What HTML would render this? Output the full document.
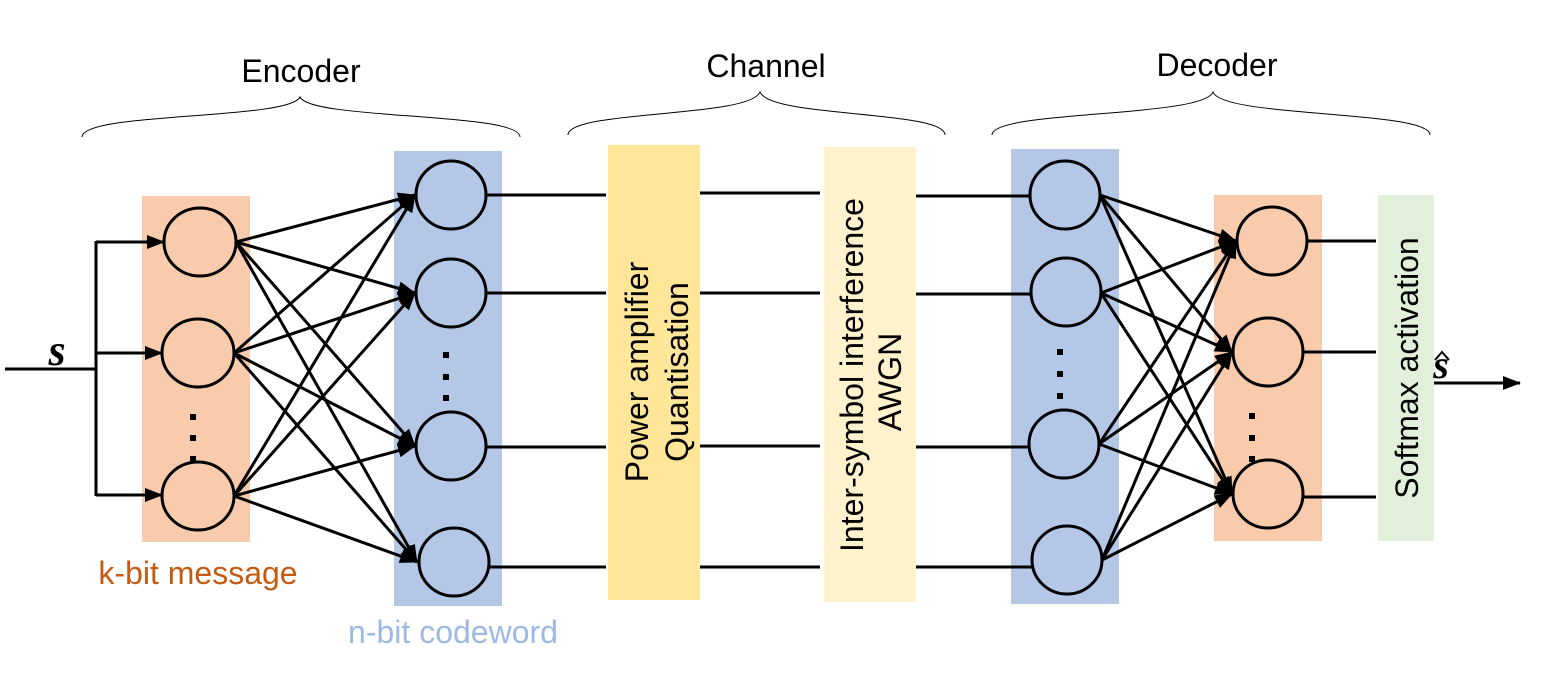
<!DOCTYPE html>
<html><head><meta charset="utf-8"><style>
html,body{margin:0;padding:0;background:#fff;}
svg{display:block;}
text{font-family:"Liberation Sans",sans-serif;}
</style></head><body>
<svg width="1551" height="688" viewBox="0 0 1551 688" xmlns="http://www.w3.org/2000/svg">
<defs>
<marker id="b" markerWidth="18" markerHeight="14" refX="17" refY="7" orient="auto" markerUnits="userSpaceOnUse" viewBox="0 0 18 14">
<path d="M0,0 L18,7 L0,14 z" fill="#000"/></marker>
</defs>
<g fill="none" stroke="#000" stroke-width="1">
<path d="M82,137 C82,112 290,120 300,97 C310,120 520,112 520,137"/>
<path d="M568,135 C568,110 750,118 760,92 C770,118 945,110 945,135"/>
<path d="M992,135 C992,110 1203,118 1213,92 C1223,118 1430,110 1430,135"/>
</g>
<g font-size="32" text-anchor="middle">
<text x="301" y="82">Encoder</text>
<text x="766" y="77">Channel</text>
<text x="1217" y="76">Decoder</text>
</g>
<rect x="142" y="196" width="108" height="346" fill="#F8CBAD"/>
<rect x="394" y="151" width="108" height="455" fill="#B4C7E7"/>
<rect x="608" y="145" width="92" height="455" fill="#FFE699"/>
<rect x="824" y="147" width="92" height="455" fill="#FFF2CC"/>
<rect x="1011" y="149" width="108" height="455" fill="#B4C7E7"/>
<rect x="1214" y="195" width="108" height="346" fill="#F8CBAD"/>
<rect x="1378" y="195" width="56" height="346" fill="#E2EFDA"/>
<g stroke="#000" stroke-width="3" fill="none">
<line x1="5" y1="369" x2="96" y2="369"/>
<line x1="96" y1="241" x2="96" y2="496"/>
<line x1="96" y1="242" x2="164" y2="242" marker-end="url(#b)"/>
<line x1="96" y1="353" x2="162" y2="353" marker-end="url(#b)"/>
<line x1="96" y1="495" x2="162" y2="495" marker-end="url(#b)"/>
<g marker-end="url(#b)">
<line x1="236" y1="242" x2="415" y2="195"/>
<line x1="236" y1="242" x2="415" y2="293"/>
<line x1="236" y1="242" x2="415" y2="446"/>
<line x1="236" y1="242" x2="417" y2="562"/>
<line x1="234" y1="353" x2="415" y2="195"/>
<line x1="234" y1="353" x2="415" y2="293"/>
<line x1="234" y1="353" x2="415" y2="446"/>
<line x1="234" y1="353" x2="417" y2="562"/>
<line x1="234" y1="496" x2="415" y2="195"/>
<line x1="234" y1="496" x2="415" y2="293"/>
<line x1="234" y1="496" x2="415" y2="446"/>
<line x1="234" y1="496" x2="417" y2="562"/>
</g>
<line x1="487" y1="195" x2="606" y2="195"/>
<line x1="487" y1="293" x2="606" y2="293"/>
<line x1="487" y1="447" x2="606" y2="447"/>
<line x1="489" y1="567" x2="606" y2="567"/>
<line x1="700" y1="193" x2="820" y2="193"/>
<line x1="700" y1="293" x2="820" y2="293"/>
<line x1="700" y1="446" x2="820" y2="446"/>
<line x1="700" y1="567" x2="820" y2="567"/>
<line x1="916" y1="196" x2="1032" y2="196"/>
<line x1="916" y1="294" x2="1032" y2="294"/>
<line x1="916" y1="447" x2="1030" y2="447"/>
<line x1="916" y1="567" x2="1032" y2="567"/>
<g marker-end="url(#b)">
<line x1="1100" y1="195" x2="1236" y2="241"/>
<line x1="1100" y1="195" x2="1232" y2="352"/>
<line x1="1100" y1="195" x2="1232" y2="494"/>
<line x1="1101" y1="293" x2="1236" y2="241"/>
<line x1="1101" y1="293" x2="1232" y2="352"/>
<line x1="1101" y1="293" x2="1232" y2="494"/>
<line x1="1099" y1="444" x2="1236" y2="241"/>
<line x1="1099" y1="444" x2="1232" y2="352"/>
<line x1="1099" y1="444" x2="1232" y2="494"/>
<line x1="1102" y1="560" x2="1236" y2="241"/>
<line x1="1102" y1="560" x2="1232" y2="352"/>
<line x1="1102" y1="560" x2="1232" y2="494"/>
</g>
<line x1="1308" y1="241" x2="1376" y2="241"/>
<line x1="1304" y1="352" x2="1376" y2="352"/>
<line x1="1304" y1="497" x2="1376" y2="497"/>
<line x1="1434" y1="383" x2="1520" y2="383" marker-end="url(#b)"/>
</g>
<g stroke="#000" stroke-width="3">
<g fill="#F8CBAD">
<ellipse cx="200" cy="242" rx="36" ry="34"/>
<ellipse cx="198" cy="353" rx="36" ry="34"/>
<ellipse cx="198" cy="496" rx="36" ry="34"/>
<ellipse cx="1272" cy="241" rx="35" ry="34"/>
<ellipse cx="1268" cy="352" rx="35" ry="34"/>
<ellipse cx="1268" cy="494" rx="35" ry="34"/>
</g>
<g fill="#B4C7E7">
<ellipse cx="451" cy="195" rx="35" ry="34"/>
<ellipse cx="451" cy="293" rx="35" ry="34"/>
<ellipse cx="451" cy="446" rx="35" ry="34"/>
<ellipse cx="454" cy="562" rx="35" ry="34"/>
<ellipse cx="1065" cy="195" rx="35" ry="34"/>
<ellipse cx="1066" cy="292" rx="35" ry="34"/>
<ellipse cx="1064" cy="444" rx="35" ry="34"/>
<ellipse cx="1067" cy="560" rx="35" ry="34"/>
</g>
</g>
<g fill="#000">
<rect x="190" y="414" width="6" height="6"/><rect x="190" y="435" width="6" height="6"/><rect x="190" y="456" width="6" height="6"/>
<rect x="443" y="352" width="6" height="6"/><rect x="443" y="374" width="6" height="6"/><rect x="443" y="395" width="6" height="6"/>
<rect x="1057" y="349" width="6" height="6"/><rect x="1057" y="371" width="6" height="6"/><rect x="1057" y="393" width="6" height="6"/>
<rect x="1249" y="413" width="6" height="6"/><rect x="1249" y="435" width="6" height="6"/><rect x="1249" y="456" width="6" height="6"/>
</g>
<text x="57" y="365" font-size="44" font-weight="bold" font-style="italic" text-anchor="middle" style="font-family:'Liberation Serif',serif">s</text>
<text x="1441" y="378" font-size="40" font-weight="bold" font-style="italic" text-anchor="middle" style="font-family:'Liberation Serif',serif">s</text>
<path d="M1435,360 L1442,352 L1449,360" fill="none" stroke="#000" stroke-width="2"/>
<text x="198" y="584" font-size="32" fill="#C55A11" text-anchor="middle">k-bit message</text>
<text x="453" y="643" font-size="32" fill="#9DB9E3" text-anchor="middle">n-bit codeword</text>
<g font-size="32" text-anchor="middle">
<text transform="translate(648,372) rotate(-90)">Power amplifier</text>
<text transform="translate(688,372) rotate(-90)">Quantisation</text>
<text transform="translate(863,375) rotate(-90)">Inter-symbol interference</text>
<text transform="translate(901,382) rotate(-90)">AWGN</text>
<text transform="translate(1418,368) rotate(-90)">Softmax activation</text>
</g>
</svg>
</body></html>
